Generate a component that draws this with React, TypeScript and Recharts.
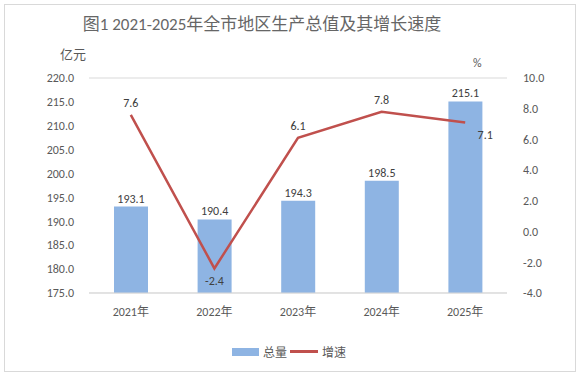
import React from 'react';
import {
  ComposedChart,
  Bar,
  Line,
  XAxis,
  YAxis,
  CartesianGrid,
  LabelList,
} from 'recharts';

const YEARS = ['2021年', '2022年', '2023年', '2024年', '2025年'];
const TOTAL = [193.1, 190.4, 194.3, 198.5, 215.1];
const GROWTH = [7.6, -2.4, 6.1, 7.8, 7.1];
const LEFT_TICKS = [175, 180, 185, 190, 195, 200, 205, 210, 215, 220];
const RIGHT_TICKS = [-4, -2, 0, 2, 4, 6, 8, 10];

// where each growth label sits relative to its point
const GROWTH_LABEL_PLACE = ['above', 'below', 'above', 'above', 'belowRight'];

const FONT = "Calibri, Carlito, 'Noto Sans', 'Noto Sans CJK SC', sans-serif";
const TEXT = '#595959';

const data = YEARS.map((year, i) => ({ year, total: TOTAL[i], growth: GROWTH[i] }));

const growthLabel = (props: any) => {
  const { x, y, value, index } = props;
  const place = GROWTH_LABEL_PLACE[index];
  let dx = 0;
  let dy = -12;
  if (place === 'below') dy = 13;
  if (place === 'belowRight') {
    dx = 20;
    dy = 12;
  }
  return (
    <text
      x={Number(x) + dx}
      y={Number(y) + dy}
      textAnchor="middle"
      dominantBaseline="central"
      fill="#404040"
      style={{ fontSize: 12, fontFamily: FONT }}
    >
      {Number(value).toFixed(1)}
    </text>
  );
};

const totalLabel = (props: any) => {
  const { x, y, width, value } = props;
  return (
    <text
      x={Number(x) + Number(width) / 2}
      y={Number(y) - 8}
      textAnchor="middle"
      dominantBaseline="central"
      fill="#404040"
      style={{ fontSize: 12, fontFamily: FONT }}
    >
      {Number(value).toFixed(1)}
    </text>
  );
};

const App: React.FC = () => {
  return (
    <div
      style={{
        position: 'absolute',
        left: 0,
        top: 0,
        width: 579,
        height: 376,
        background: '#fff',
        fontFamily: FONT,
      }}
    >
      <div
        style={{
          position: 'absolute',
          left: 4,
          top: 4,
          width: 570,
          height: 366,
          border: '1px solid #D9D9D9',
        }}
      />
      <div
        style={{
          position: 'absolute',
          left: 0,
          width: 524,
          top: 10,
          textAlign: 'center',
          fontSize: 17,
          color: '#666',
          fontFamily: FONT,
        }}
      >
        图1 2021-2025年全市地区生产总值及其增长速度
      </div>
      <div style={{ position: 'absolute', left: 60, top: 44, fontSize: 13, color: TEXT }}>亿元</div>
      <div style={{ position: 'absolute', left: 473, top: 56, fontSize: 12, color: TEXT }}>%</div>

      <ComposedChart
        width={579}
        height={376}
        data={data}
        margin={{ top: 78, right: 0, bottom: 53, left: 0 }}
        style={{ position: 'absolute', left: 0, top: 0 }}
      >
        <CartesianGrid vertical={false} stroke="#D9D9D9" />
        <XAxis
          dataKey="year"
          height={30}
          tickLine={false}
          axisLine={{ stroke: '#D9D9D9' }}
          tick={{ fill: TEXT, fontSize: 12, fontFamily: FONT }}
          tickMargin={8}
        />
        <YAxis
          yAxisId="left"
          width={89}
          domain={[175, 220]}
          ticks={LEFT_TICKS}
          interval={0}
          tickFormatter={(v: number) => v.toFixed(1)}
          axisLine={false}
          tickLine={false}
          tick={{ fill: TEXT, fontSize: 12, fontFamily: FONT }}
          tickMargin={9}
        />
        <YAxis
          yAxisId="right"
          orientation="right"
          width={72}
          domain={[-4, 10]}
          ticks={RIGHT_TICKS}
          interval={0}
          tickFormatter={(v: number) => v.toFixed(1)}
          axisLine={false}
          tickLine={false}
          tick={{ fill: TEXT, fontSize: 12, fontFamily: FONT }}
          tickMargin={10}
        />
        <Bar
          yAxisId="left"
          dataKey="total"
          name="总量"
          fill="#8EB4E3"
          barSize={34}
          isAnimationActive={false}
        >
          <LabelList dataKey="total" content={totalLabel} />
        </Bar>
        <Line
          yAxisId="right"
          dataKey="growth"
          name="增速"
          type="linear"
          stroke="#C0504D"
          strokeWidth={2.5}
          dot={false}
          activeDot={false}
          isAnimationActive={false}
        >
          <LabelList dataKey="growth" content={growthLabel} />
        </Line>
      </ComposedChart>

      {/* legend */}
      <div
        style={{
          position: 'absolute',
          left: 232,
          top: 343,
          display: 'flex',
          alignItems: 'center',
          fontSize: 12,
          color: TEXT,
        }}
      >
        <span style={{ display: 'inline-block', width: 27, height: 8, background: '#8EB4E3', marginRight: 4 }} />
        <span style={{ marginRight: 3 }}>总量</span>
        <span style={{ display: 'inline-block', width: 28, height: 3, background: '#C0504D', marginRight: 4 }} />
        <span>增速</span>
      </div>
    </div>
  );
};

export default App;
